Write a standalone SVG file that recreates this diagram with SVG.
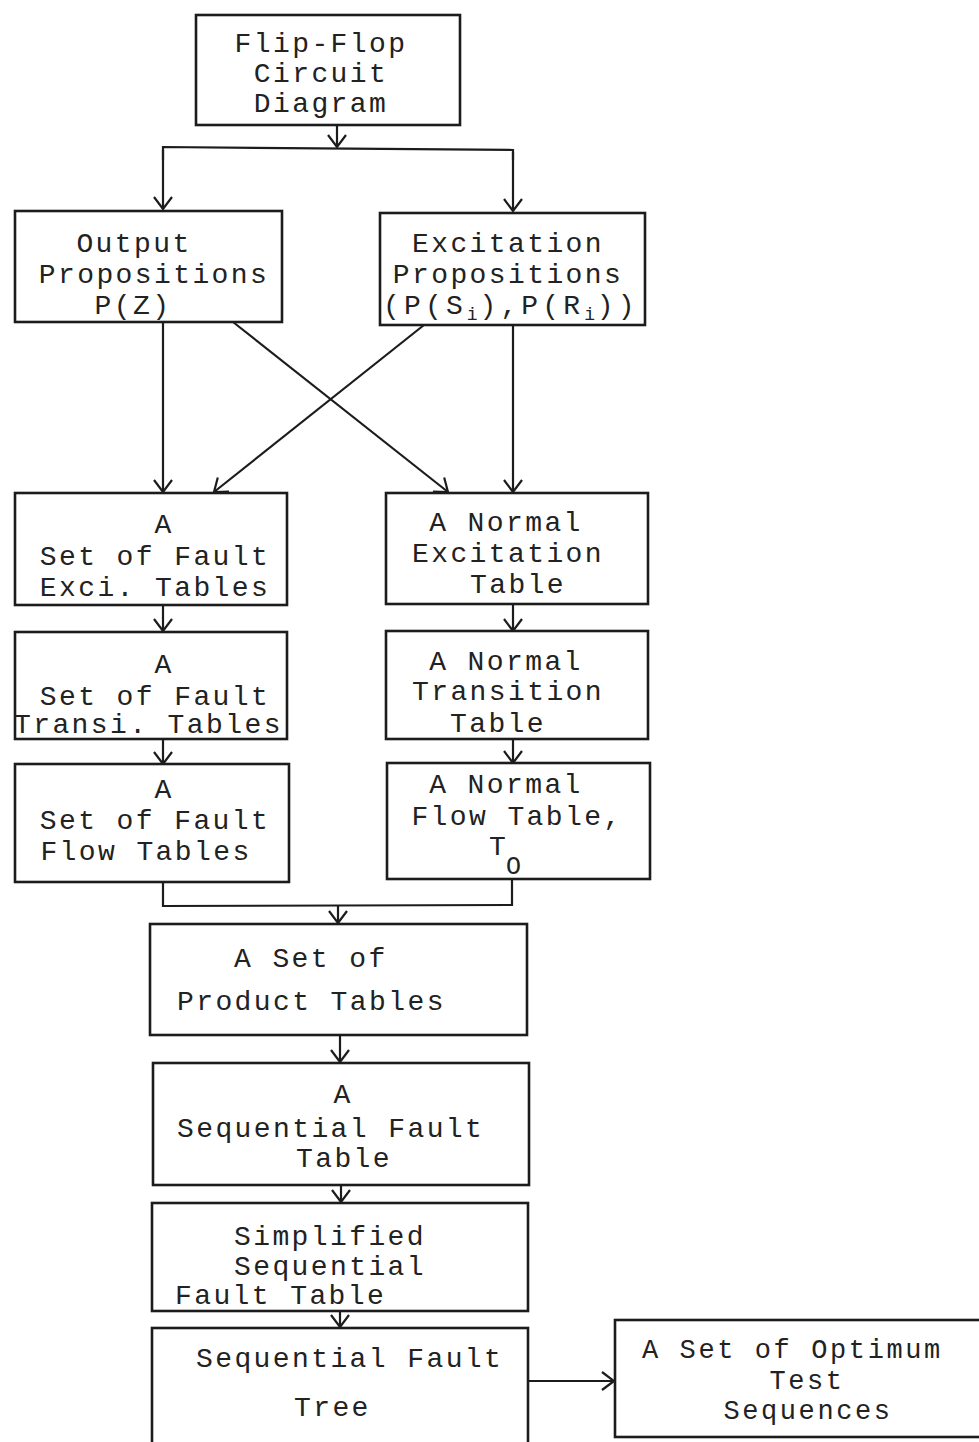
<svg xmlns="http://www.w3.org/2000/svg" width="979" height="1442" viewBox="0 0 979 1442">
<defs>
<style>
.box{fill:none;stroke:#1c1c1c;stroke-width:2.6}
.t{font-family:"Liberation Mono","Courier New",monospace;font-size:28px;letter-spacing:2.4px;fill:#222}
.c{text-anchor:middle}
.sub{font-size:18px;letter-spacing:0}
.o{font-size:27px;letter-spacing:2.6px}
.con{fill:none;stroke:#1c1c1c;stroke-width:2.2}
</style>
<marker id="ah" viewBox="0 0 14 20" refX="13" refY="10" markerWidth="14" markerHeight="20" markerUnits="userSpaceOnUse" orient="auto">
<path d="M1,1 L13,10 L1,19" fill="none" stroke="#1c1c1c" stroke-width="2.2"/>
</marker>
</defs>
<rect width="979" height="1442" fill="#ffffff"/>

<g id="connectors">
<line class="con" x1="337" y1="125" x2="337" y2="147" marker-end="url(#ah)"/>
<polyline class="con" points="163,160 163,147 513,150 513,160"/>
<line class="con" x1="163" y1="150" x2="163" y2="209" marker-end="url(#ah)"/>
<line class="con" x1="513" y1="152" x2="513" y2="211" marker-end="url(#ah)"/>
<line class="con" x1="163" y1="322" x2="163" y2="492" marker-end="url(#ah)"/>
<line class="con" x1="513" y1="325" x2="513" y2="492" marker-end="url(#ah)"/>
<line class="con" x1="233" y1="322" x2="448" y2="492" marker-end="url(#ah)"/>
<line class="con" x1="424" y1="325" x2="214" y2="492" marker-end="url(#ah)"/>
<line class="con" x1="163" y1="605" x2="163" y2="631" marker-end="url(#ah)"/>
<line class="con" x1="513" y1="604" x2="513" y2="631" marker-end="url(#ah)"/>
<line class="con" x1="163" y1="739" x2="163" y2="764" marker-end="url(#ah)"/>
<line class="con" x1="513" y1="739" x2="513" y2="763" marker-end="url(#ah)"/>
<polyline class="con" points="163,882 163,906 512,905 512,879"/>
<line class="con" x1="338" y1="906" x2="338" y2="923" marker-end="url(#ah)"/>
<line class="con" x1="340" y1="1035" x2="340" y2="1062" marker-end="url(#ah)"/>
<line class="con" x1="341" y1="1185" x2="341" y2="1202" marker-end="url(#ah)"/>
<line class="con" x1="340" y1="1311" x2="340" y2="1327" marker-end="url(#ah)"/>
<line class="con" x1="528" y1="1381" x2="614" y2="1381" marker-end="url(#ah)"/>
</g>

<g id="n-flipflop">
<rect class="box" x="196" y="15" width="264" height="110"/>
<text class="t c" x="321" y="52">Flip-Flop</text>
<text class="t c" x="321" y="82">Circuit</text>
<text class="t c" x="321" y="112">Diagram</text>
</g>

<g id="n-output">
<rect class="box" x="15" y="211" width="267" height="111"/>
<text class="t c" x="134" y="252">Output</text>
<text class="t c" x="154" y="283">Propositions</text>
<text class="t c" x="133" y="314">P(Z)</text>
</g>

<g id="n-excitation">
<rect class="box" x="380" y="213" width="265" height="112"/>
<text class="t c" x="508" y="252">Excitation</text>
<text class="t c" x="508" y="283">Propositions</text>
<text class="t" x="383" y="314" textLength="254" lengthAdjust="spacing">(P(S<tspan class="sub" dy="6">i</tspan><tspan dy="-6">),P(R</tspan><tspan class="sub" dy="6">i</tspan><tspan dy="-6">))</tspan></text>
</g>

<g id="n-fault-exci">
<rect class="box" x="15" y="493" width="272" height="112"/>
<text class="t c" x="164" y="533">A</text>
<text class="t c" x="155" y="565">Set of Fault</text>
<text class="t c" x="155" y="596">Exci. Tables</text>
</g>

<g id="n-normal-exci">
<rect class="box" x="386" y="493" width="262" height="111"/>
<text class="t c" x="506" y="531">A Normal</text>
<text class="t c" x="508" y="562">Excitation</text>
<text class="t c" x="518" y="593">Table</text>
</g>

<g id="n-fault-transi">
<rect class="box" x="15" y="632" width="272" height="107"/>
<text class="t c" x="164" y="673">A</text>
<text class="t c" x="155" y="705">Set of Fault</text>
<text class="t" x="14" y="733">Transi. Tables</text>
</g>

<g id="n-normal-transi">
<rect class="box" x="386" y="631" width="262" height="108"/>
<text class="t c" x="506" y="670">A Normal</text>
<text class="t c" x="508" y="700">Transition</text>
<text class="t c" x="498" y="732">Table</text>
</g>

<g id="n-fault-flow">
<rect class="box" x="15" y="764" width="274" height="118"/>
<text class="t c" x="164" y="798">A</text>
<text class="t c" x="155" y="829">Set of Fault</text>
<text class="t c" x="146" y="860">Flow Tables</text>
</g>

<g id="n-normal-flow">
<rect class="box" x="387" y="763" width="263" height="116"/>
<text class="t c" x="506" y="793">A Normal</text>
<text class="t c" x="517" y="825">Flow Table,</text>
<text class="t" x="489" y="855">T</text>
<text class="t" x="506" y="874" style="font-size:25px">O</text>
</g>

<g id="n-product">
<rect class="box" x="150" y="924" width="377" height="111"/>
<text class="t" x="234" y="967">A Set of</text>
<text class="t" x="177" y="1010">Product Tables</text>
</g>

<g id="n-seq-fault-table">
<rect class="box" x="153" y="1063" width="376" height="122"/>
<text class="t c" x="343" y="1103">A</text>
<text class="t" x="177" y="1137">Sequential Fault</text>
<text class="t" x="296" y="1167">Table</text>
</g>

<g id="n-simplified">
<rect class="box" x="152" y="1203" width="376" height="108"/>
<text class="t" x="234" y="1245">Simplified</text>
<text class="t" x="234" y="1275">Sequential</text>
<text class="t" x="175" y="1304">Fault  Table</text>
</g>

<g id="n-tree">
<rect class="box" x="152" y="1328" width="376" height="120"/>
<text class="t" x="196" y="1367">Sequential Fault</text>
<text class="t" x="294" y="1416">Tree</text>
</g>

<g id="n-optimum">
<rect class="box" x="615" y="1320" width="370" height="117"/>
<text class="t o" x="642" y="1358">A Set of Optimum</text>
<text class="t o c" x="807" y="1389">Test</text>
<text class="t o c" x="808" y="1419">Sequences</text>
</g>
</svg>
